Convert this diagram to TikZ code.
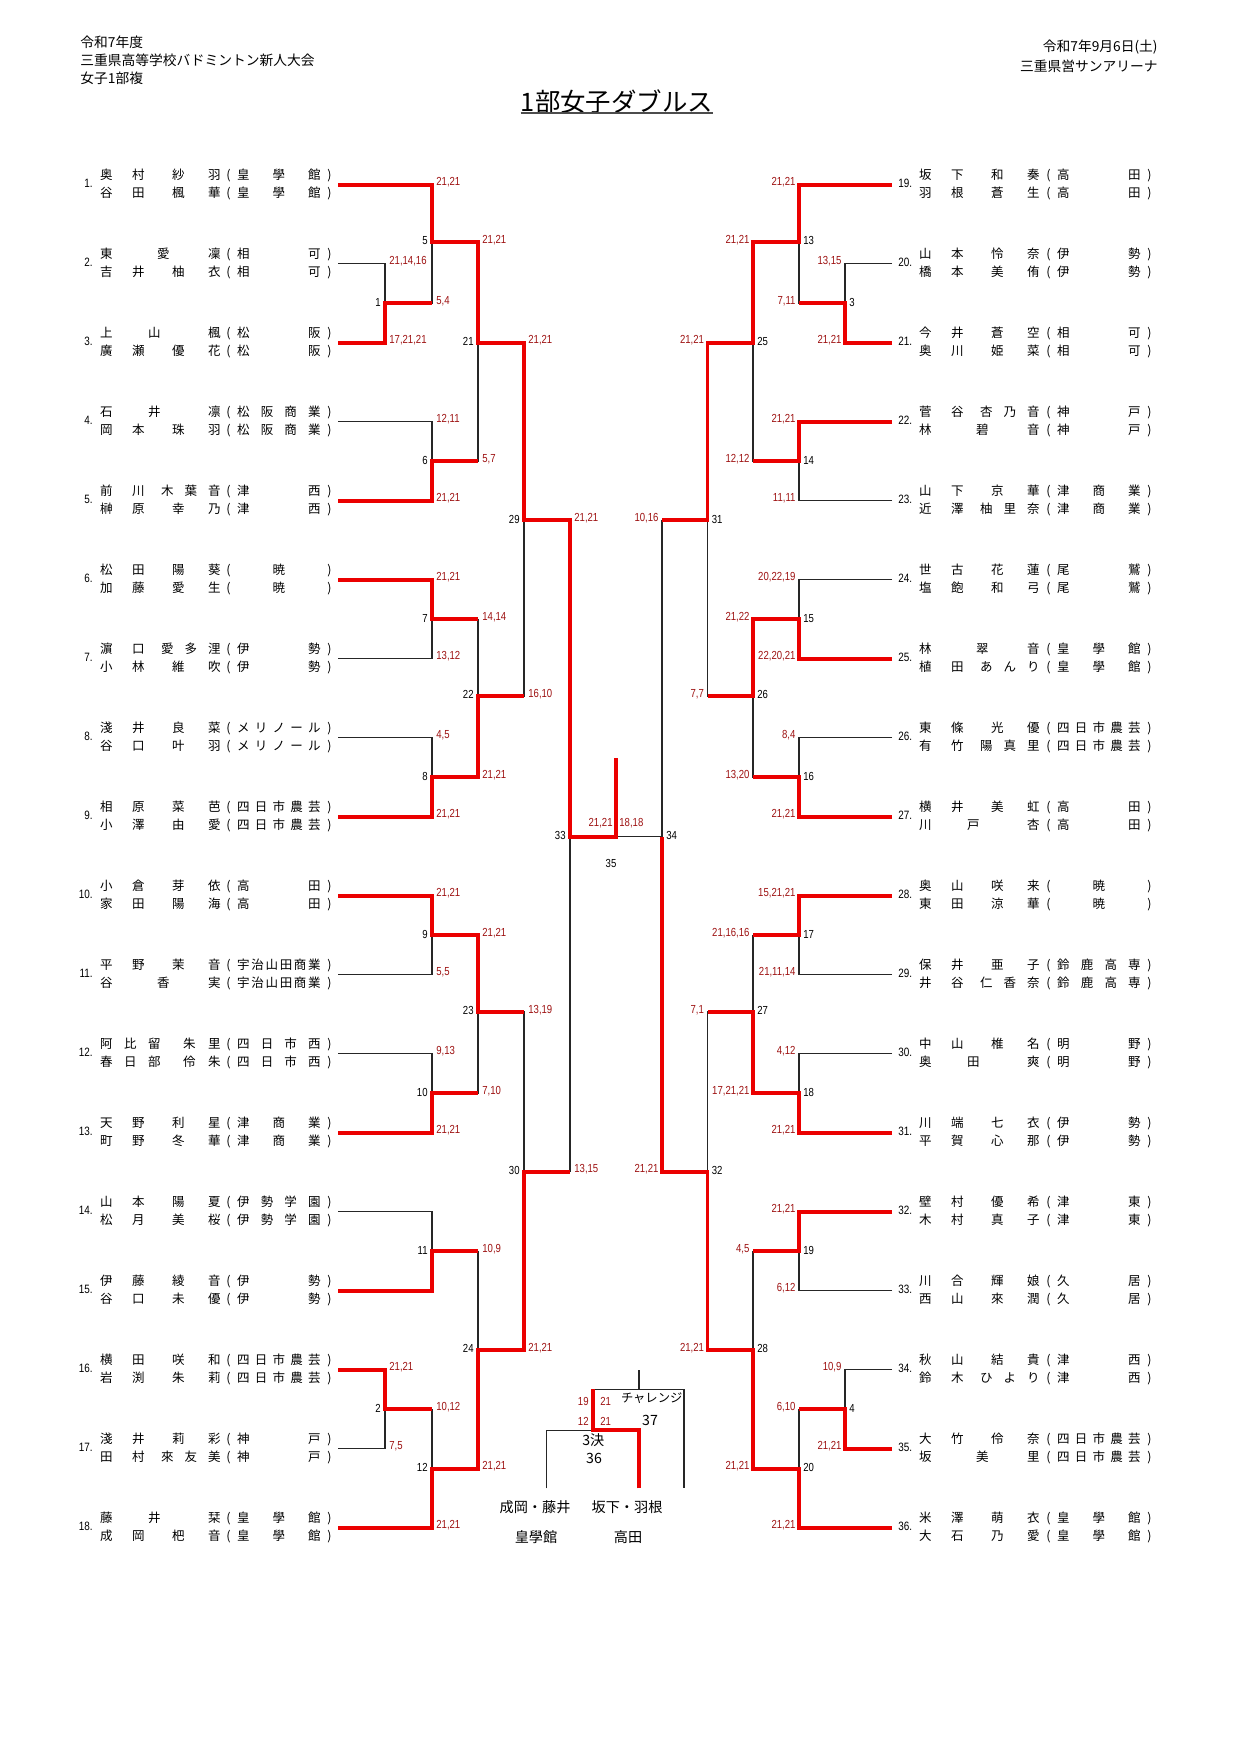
\documentclass[tikz,border=0pt]{standalone}
\usepackage{fontspec}
\setmainfont{Noto Sans CJK JP}
\newfontfamily\scf[FakeStretch=0.82]{Liberation Sans}
\usetikzlibrary{calc}
\definecolor{brkred}{RGB}{235,0,0}
\definecolor{scred}{RGB}{158,18,18}
\newdimen\pxu \pxu=0.48pt
\makeatletter
\newcount\ch@n \newcount\pn@s \newcount\pn@g
\newdimen\pn@ws \newdimen\pn@wg
\def\countchars#1{\ch@n=\z@ \count@chars#1\@nil}
\def\count@chars#1{\ifx#1\@nil\else\advance\ch@n\@ne\expandafter\count@chars\fi}
\def\spreadtxt#1{\spread@a#1\@nil}
\def\spread@a#1#2{#1\ifx#2\@nil\else\hfil\expandafter\spread@a\expandafter#2\fi}
% name line: surname and given name spread in their own fields
\newcommand\pname[2]{%
  \countchars{#1}\pn@s=\ch@n
  \countchars{#2}\pn@g=\ch@n
  \ifcase\pn@s\or\pn@ws=0pt\or\ifnum\pn@g=1 \pn@ws=48\pxu\else\pn@ws=32\pxu\fi\else\pn@ws=48\pxu\fi
  \advance\pn@ws by 1em
  \ifcase\pn@g\or\pn@wg=0pt\or\ifcase\pn@s\or\pn@wg=51\pxu\or\pn@wg=36\pxu\else\pn@wg=25\pxu\fi\else\pn@wg=47\pxu\fi
  \advance\pn@wg by 1em
  \hbox to \dimexpr108\pxu+1em\relax{\makebox[\pn@ws][s]{\spreadtxt{#1}}\hfil\makebox[\pn@wg][s]{\spreadtxt{#2}}}}
\newcommand\pschool[1]{%
  \countchars{#1}%
  \makebox[17.5\pxu]{(}%
  \ifnum\ch@n=1 \makebox[\dimexpr71\pxu+1em\relax][c]{#1}%
  \else\makebox[\dimexpr71\pxu+1em\relax][s]{\spreadtxt{#1}}\fi
  \makebox[17.5\pxu]{)}}
\newcommand\pnamex[2]{\edef\pn@tmp{\noexpand\pname{#1}{#2}}\pn@tmp}
\newcommand\pschoolx[1]{\edef\pn@tmp{\noexpand\pschool{#1}}\pn@tmp}
\makeatother
\tikzset{
  win/.style={draw=brkred, line width=1.9pt},
  lose/.style={draw=black!85, line width=0.5pt},
  score/.style={font=\scf\fontsize{5.6}{6}\selectfont, text=scred, inner sep=0pt},
  scl/.style={score, anchor=base west, xshift=1.9pt, yshift=-0.5pt},
  scr/.style={score, anchor=base east, xshift=-1.5pt, yshift=-0.5pt},
  lbl/.style={font=\scf\fontsize{5.6}{6}\selectfont, inner sep=0pt},
  lbll/.style={lbl, anchor=base east, xshift=-1.9pt, yshift=-1.4pt},
  lblr/.style={lbl, anchor=base west, xshift=1.9pt, yshift=-1.4pt},
  nm/.style={font=\fontsize{6}{6}\selectfont, inner sep=0pt, anchor=west},
  num/.style={font=\scf\fontsize{5.8}{6}\selectfont, inner sep=0pt},
  hd/.style={font=\fontsize{6.6}{7}\selectfont, inner sep=0pt},
  bt/.style={font=\fontsize{6.8}{7}\selectfont, inner sep=0pt},
}
\begin{document}
\begin{tikzpicture}[x=0.48pt,y=-0.48pt]
\fill[white] (0,0) rectangle (1241,1755);
\useasboundingbox (0,0) rectangle (1241,1755);

% header
\node[hd, anchor=west] (h1) at (80,42) {令和7年度};
\node[hd, anchor=west] (h2) at (80,60) {三重県高等学校バドミントン新人大会};
\node[hd, anchor=west] (h3) at (80,78) {女子1部複};
\node[hd, anchor=east] (h4) at (1158,47.5) {令和7年9月6日(土)};
\node[hd, anchor=east] (h5) at (1158,66) {三重県営サンアリーナ};
\node[font=\fontsize{12.2}{13}\selectfont, inner sep=0pt] (title) at (617,102) {1部女子ダブルス};
\draw[black!70, line width=0.9pt] ($(title.south west)+(0,-1)$) -- ($(title.south east)+(0,-1)$);

% players, left half
\foreach \i/\sa/\ga/\sb/\gb/\sc in {
 1/奥村/紗羽/谷田/楓華/皇學館,
 2/東/愛凜/吉井/柚衣/相可,
 3/上山/楓/廣瀬/優花/松阪,
 4/石井/凛/岡本/珠羽/松阪商業,
 5/前川/木葉音/榊原/幸乃/津西,
 6/松田/陽葵/加藤/愛生/暁,
 7/濵口/愛多浬/小林/維吹/伊勢,
 8/淺井/良菜/谷口/叶羽/メリノール,
 9/相原/菜芭/小澤/由愛/四日市農芸,
 10/小倉/芽依/家田/陽海/高田,
 11/平野/茉音/谷/香実/宇治山田商業,
 12/阿比留/朱里/春日部/伶朱/四日市西,
 13/天野/利星/町野/冬華/津商業,
 14/山本/陽夏/松月/美桜/伊勢学園,
 15/伊藤/綾音/谷口/未優/伊勢,
 16/横田/咲和/岩渕/朱莉/四日市農芸,
 17/淺井/莉彩/田村/來友美/神戸,
 18/藤井/栞/成岡/杷音/皇學館}{
  \pgfmathsetmacro\yy{184.7+79*(\i-1)}
  \coordinate (e\i) at (338,\yy);
  \node[num, anchor=base east] (no\i) at (93,\yy+2.5) {\i.};
  \node[nm] (na\i) at (99.75,\yy-9.5) {\pnamex{\sa}{\ga}};
  \node[nm] (nb\i) at (99.75,\yy+8.5) {\pnamex{\sb}{\gb}};
  \node[nm] (sa\i) at (219.25,\yy-9.5) {\pschoolx{\sc}};
  \node[nm] (sb\i) at (219.25,\yy+8.5) {\pschoolx{\sc}};
}
% players, right half
\foreach \i/\sa/\ga/\sb/\gb/\sc in {
 19/坂下/和奏/羽根/蒼生/高田,
 20/山本/怜奈/橋本/美侑/伊勢,
 21/今井/蒼空/奥川/姫菜/相可,
 22/菅谷/杏乃音/林/碧音/神戸,
 23/山下/京華/近澤/柚里奈/津商業,
 24/世古/花蓮/塩飽/和弓/尾鷲,
 25/林/翠音/植田/あんり/皇學館,
 26/東條/光優/有竹/陽真里/四日市農芸,
 27/横井/美虹/川戸/杏/高田,
 28/奥山/咲来/東田/涼華/暁,
 29/保井/亜子/井谷/仁香奈/鈴鹿高専,
 30/中山/椎名/奥田/爽/明野,
 31/川端/七衣/平賀/心那/伊勢,
 32/壁村/優希/木村/真子/津東,
 33/川合/輝娘/西山/來潤/久居,
 34/秋山/結貴/鈴木/ひより/津西,
 35/大竹/伶奈/坂/美里/四日市農芸,
 36/米澤/萌衣/大石/乃愛/皇學館}{
  \pgfmathsetmacro\yy{184.7+79*(\i-19)}
  \coordinate (e\i) at (892,\yy);
  \node[num, anchor=base west] (no\i) at (898,\yy+2.5) {\i.};
  \node[nm] (na\i) at (918.75,\yy-9.5) {\pnamex{\sa}{\ga}};
  \node[nm] (nb\i) at (918.75,\yy+8.5) {\pnamex{\sb}{\gb}};
  \node[nm] (sa\i) at (1039.25,\yy-9.5) {\pschoolx{\sc}};
  \node[nm] (sb\i) at (1039.25,\yy+8.5) {\pschoolx{\sc}};
}

% match points
\foreach \n/\x/\y in {1/385/303.2, 5/432/242, 6/432/461.2, 21/478/342.7,
  7/432/619.2, 8/432/777.2, 22/478/696, 29/524/520.3, 9/432/935.2,
  10/432/1093.2, 23/478/1012, 11/432/1251.2, 2/385/1409.2, 12/432/1468.5,
  24/478/1350, 30/524/1171.7, 33/570/836.7,
  3/845/303.2, 13/799/242, 14/799/461.2, 25/753/342.7, 15/799/619.2,
  16/799/777.2, 26/753/696, 31/707.5/520.3, 17/799/935.2, 18/799/1093.2,
  27/753/1012, 19/799/1251.2, 4/845/1409.2, 20/799/1468.5, 28/753/1350,
  32/707.5/1171.7, 34/662/836.7}
  \coordinate (m\n) at (\x,\y);
\coordinate (m35) at (616,836.7);
\coordinate (champ) at (616,758);

% losing sides
\foreach \u/\k in {e2/1, e4/6, e7/7, e8/8, e11/9, e12/10, e14/11, e17/2,
  m1/5, m6/21, m7/22, m22/29, m10/23, m11/24, m2/12, m23/30, m30/33,
  e20/3, e23/14, e24/15, e26/16, e29/17, e30/18, e33/19, e34/4,
  m3/13, m14/25, m16/26, m26/31, m17/27, m19/28, m4/20, m27/32, m31/34}
  \draw[lose] (\u) -| (m\k);
\draw[lose] (m35) -- (m34);

% winning runs
\draw[win] (e1) -| (m5) -| (m21) -| (m29) -| (m33) -- (m35) -- (champ)
  (e3) -| (m1) -- (m1 -| m5)
  (e5) -| (m6) -- (m6 -| m21)
  (e6) -| (m7) -- (m7 -| m22)
  (e9) -| (m8) -| (m22) -- (m22 -| m29)
  (e10) -| (m9) -| (m23) -- (m23 -| m30)
  (e13) -| (m10) -- (m10 -| m23)
  (e15) -| (m11) -- (m11 -| m24)
  (e16) -| (m2) -- (m2 -| m12)
  (e18) -| (m12) -| (m24) -| (m30) -- (m30 -| m33)
  (e19) -| (m13) -| (m25) -| (m31) -- (m31 -| m34)
  (e21) -| (m3) -- (m3 -| m13)
  (e22) -| (m14) -- (m14 -| m25)
  (e25) -| (m15) -| (m26) -- (m26 -| m31)
  (e27) -| (m16) -- (m16 -| m26)
  (e28) -| (m17) -- (m17 -| m27)
  (e31) -| (m18) -| (m27) -- (m27 -| m32)
  (e32) -| (m19) -- (m19 -| m28)
  (e35) -| (m4) -- (m4 -| m20)
  (e36) -| (m20) -| (m28) -| (m32) -| (m34);

% scores
\foreach \u/\k/\s in {e2/1/{21,14,16}, e3/1/{17,21,21}, e1/5/{21,21}, m1/5/{5,4},
  e4/6/{12,11}, e5/6/{21,21}, m5/21/{21,21}, m6/21/{5,7}, e6/7/{21,21},
  e7/7/{13,12}, e8/8/{4,5}, e9/8/{21,21}, m7/22/{14,14}, m8/22/{21,21},
  m21/29/{21,21}, m22/29/{16,10}, e10/9/{21,21}, e11/9/{5,5}, e12/10/{9,13},
  e13/10/{21,21}, m9/23/{21,21}, m10/23/{7,10}, e16/2/{21,21}, e17/2/{7,5},
  m2/12/{10,12}, e18/12/{21,21}, m11/24/{10,9}, m12/24/{21,21},
  m23/30/{13,19}, m24/30/{21,21}, m29/33/{21,21}, m30/33/{13,15}}
  \node[scl] (sc-\u-\k) at (\u -| m\k) {\s};
\foreach \u/\k/\s in {e19/13/{21,21}, m3/13/{7,11}, e20/3/{13,15}, e21/3/{21,21},
  e22/14/{21,21}, e23/14/{11,11}, m13/25/{21,21}, m14/25/{12,12},
  e24/15/{20,22,19}, e25/15/{22,20,21}, e26/16/{8,4}, e27/16/{21,21},
  m15/26/{21,22}, m16/26/{13,20}, m25/31/{21,21}, m26/31/{7,7},
  e28/17/{15,21,21}, e29/17/{21,11,14}, e30/18/{4,12}, e31/18/{21,21},
  m17/27/{21,16,16}, m18/27/{17,21,21}, e32/19/{21,21}, e33/19/{6,12},
  e34/4/{10,9}, e35/4/{21,21}, m4/20/{6,10}, e36/20/{21,21}, m19/28/{4,5},
  m20/28/{21,21}, m27/32/{7,1}, m28/32/{21,21}, m31/34/{10,16}, m32/34/{21,21}}
  \node[scr] (sc-\u-\k) at (\u -| m\k) {\s};

% match numbers
\foreach \n in {1,5,6,21,7,8,22,29,9,10,23,11,2,12,24,30,33}
  \node[lbll] (lb\n) at (m\n) {\n};
\foreach \n in {3,13,14,25,15,16,26,31,17,18,27,19,4,20,28,32,34}
  \node[lblr] (lb\n) at (m\n) {\n};

% final
\node[score, anchor=base east] (sc-f1) at ($(m35)+(-3,-10.7)$) {21,21};
\node[score, anchor=base west] (sc-f2) at ($(m35)+(3,-10.7)$) {18,18};
\node[lbl] (lb35) at ($(m35)+(-5,26.5)$) {35};

% third place and challenge
\coordinate (q1) at (546.7,1488.3);
\coordinate (q2) at (639,1488.3);
\coordinate (q3) at (684,1488.3);
\coordinate (m36) at (593.3,1430);
\coordinate (m37) at (639,1389.3);
\coordinate (q4) at (639,1370);
\draw[lose] (q1) |- (m36);
\draw[lose] (m36 |- m37) -- (m37) -- (m37 -| q3) -- (q3);
\draw[lose] (m37) -- (q4);
\draw[win] (q2) |- (m36) -- (m36 |- m37);
\node[score, anchor=base east] (sc-c1) at (589,1405) {19};
\node[score, anchor=base west] (sc-c2) at (600,1405) {21};
\node[score, anchor=base east] (sc-c3) at (589,1425) {12};
\node[score, anchor=base west] (sc-c4) at (600,1425) {21};
\node[font=\fontsize{5.9}{6}\selectfont, inner sep=0pt] (t37a) at (651.7,1398.5) {チャレンジ};
\node[bt] (t37b) at (650,1420) {37};
\node[bt] (t36a) at (593.3,1440) {3決};
\node[bt] (t36b) at (594,1458.3) {36};
\node[bt] (pl1) at (535,1507.5) {成岡・藤井};
\node[bt] (pl2) at (627,1507.5) {坂下・羽根};
\node[bt] (sch1) at (536,1537.5) {皇學館};
\node[bt] (sch2) at (628,1537.5) {高田};
\end{tikzpicture}
\end{document}
